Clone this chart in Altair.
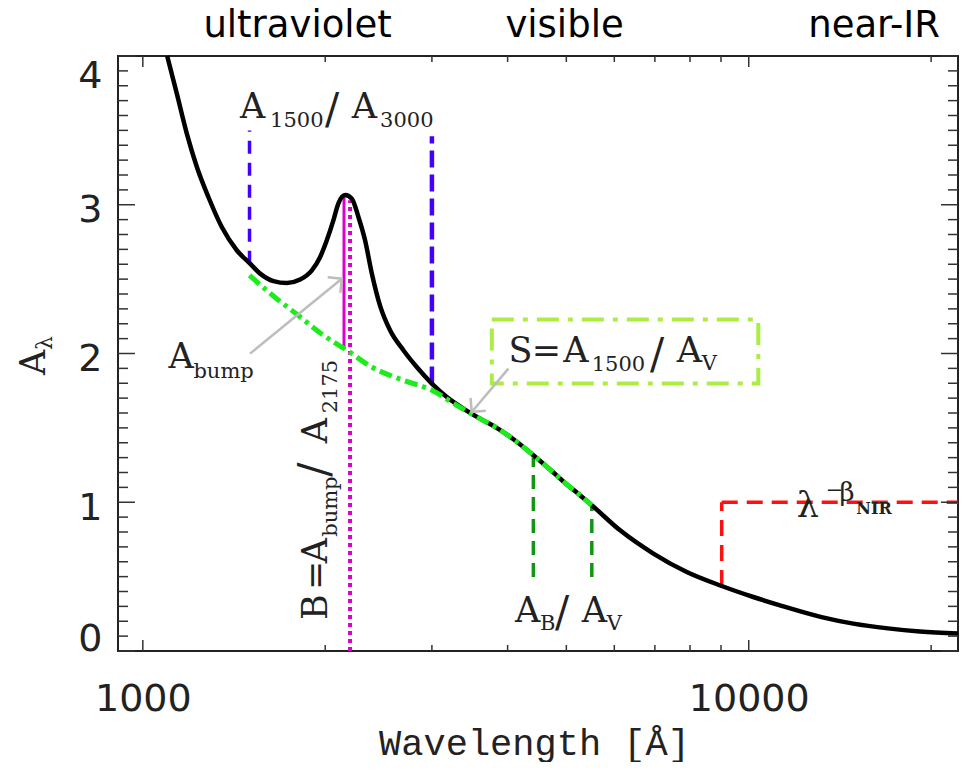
import altair as alt
import pandas as pd

# ---------------- values ----------------
# attenuation curve A_lambda (black)
curve_wave = [1097, 1138, 1182, 1228, 1283, 1350, 1429, 1503, 1562, 1643, 1729, 1818,
              1901, 1962, 2012, 2063, 2102, 2157, 2213, 2269, 2327, 2387, 2464, 2559,
              2692, 2832, 2999, 3175, 3381, 3603, 3838, 4100, 4411, 4700, 4943, 5250,
              5508, 6134, 6960, 7902, 9024, 10175, 11260, 13190, 14880, 16970, 19170, 22150]
curve_a = [4.00, 3.747, 3.478, 3.254, 3.052, 2.850, 2.694, 2.604, 2.537, 2.487, 2.474, 2.497,
           2.559, 2.649, 2.761, 2.895, 3.008, 3.066, 3.041, 2.918, 2.761, 2.54, 2.32, 2.156,
           2.022, 1.909, 1.798, 1.708, 1.630, 1.562, 1.50, 1.42, 1.316, 1.22, 1.14, 1.052,
           0.98, 0.811, 0.655, 0.531, 0.437, 0.363, 0.307, 0.228, 0.184, 0.152, 0.131, 0.117]

# bump-free underlying curve (green dash-dot)
base_wave = [1500, 1650, 1800, 1975, 2175, 2387, 2692, 2999, 3295, 3515, 3838, 4100,
             4411, 4700, 4943, 5250, 5508]
base_a = [2.525, 2.38, 2.26, 2.13, 2.02, 1.909, 1.82, 1.753, 1.652, 1.585, 1.50, 1.42,
          1.316, 1.22, 1.14, 1.052, 0.98]

# marker segments
uv_wave = [1500, 3000]           # A1500 / A3000
uv_lo = [2.604, 1.798]
uv_hi = [3.50, 3.46]
bump_wave = [2148]               # A_bump (solid)
bump_lo = [2.03]
bump_hi = [3.06]
b2175_wave = [2198]              # A2175 (dotted)
b2175_lo = [0.0]
b2175_hi = [3.03]
bv_wave = [4411, 5508]           # A_B / A_V
bv_lo = [0.497, 0.497]
bv_hi = [1.30, 0.98]
nir_x = [9024, 9024]             # NIR slope bracket
nir_x2 = [9024, 22150]
nir_y = [0.437, 1.0]
nir_y2 = [1.0, 1.0]
box_x = [3767]                   # box round S label
box_x2 = [10371]
box_y = [1.798]
box_y2 = [2.228]
arrow_x = [1503, 4012]
arrow_y = [1.999, 1.898]
arrow_x2 = [2130, 3490]
arrow_y2 = [2.503, 1.607]
arrow_angle = [320.7, 130.1]

# text pieces (anchor = left end of baseline)
main_t = ["A", "A", "A", "S", "=", "A", "A", "A", "A", "λ"]
main_w = [1447, 2213, 1102, 4012, 4385, 4944, 7606, 4115, 5302, 12000]
main_a = [3.585, 3.585, 1.901, 1.945, 1.945, 1.945, 1.945, 0.197, 0.197, 0.903]
sub_t = ["1500", "3000", "bump", "1500", "V", "B", "V", "−"]
sub_w = [1622, 2464, 1212, 5507, 8362, 4525, 5832, 13400]
sub_a = [3.521, 3.521, 1.833, 1.884, 1.889, 0.141, 0.141, 1.035]
beta_t = ["β"]
beta_w = [14120]
beta_a = [1.008]
slash_w = [1999, 6872, 4790]
slash_a = [3.551, 1.904, 0.168]
nir_t = ["NIR"]
nir_w = [15050]
nir_a = [0.921]
rot_main_t = ["B", "=", "A", "A"]
rot_main_w = [2012, 2012, 2012, 2012]
rot_main_a = [0.208, 0.410, 0.590, 1.396]
rot_sub_t = ["bump", "2175"]
rot_sub_w = [2090, 2090]
rot_sub_a = [0.768, 1.598]
rot_slash_w = [2020]
rot_slash_a = [1.172]
region_t = ["ultraviolet", "visible", "near-IR"]
region_w = [1801, 4966, 16100]
region_a = [4.128, 4.128, 4.128]

# axis ticks
x_major = [1000, 10000]
x_minor = [2000, 3000, 4000, 5000, 6000, 7000, 8000, 9000, 20000]
y_major = [0, 1, 2, 3, 4]
y_minor = [round(i * 0.1, 1) for i in range(1, 40) if i % 10 != 0]

# ---------------- chart ----------------
W, H = 840, 595
xs = alt.Scale(type="log", domain=[910, 22150], nice=False)
ys = alt.Scale(domain=[0, 4], nice=False, zero=False)

x_axis = alt.Axis(values=x_major, format="d", ticks=False, tickSize=0, domain=False, grid=False,
                  labelFont="DejaVu Sans", labelFontSize=38, labelColor="#222",
                  labelPadding=29, labelFlush=False, labelOverlap=False,
                  title="Wavelength [Å]", titleFont="Liberation Mono", titleFontSize=37,
                  titleFontWeight="normal", titleColor="#222", titlePadding=7, titleX=416)
y_axis = alt.Axis(values=y_major, ticks=False, tickSize=0, domain=False, grid=False,
                  labelFont="DejaVu Sans", labelFontSize=38, labelColor="#222",
                  labelPadding=16, labelBaseline="middle",
                  labelOffset={"condition": [{"test": "datum.value >= 4", "value": 20},
                                             {"test": "datum.value <= 0", "value": -12}],
                               "value": 6},
                  title=None)


def ex(f):
    return alt.X(f, type="quantitative", scale=xs, axis=x_axis)


def ey(f):
    return alt.Y(f, type="quantitative", scale=ys, axis=y_axis)


def vrules(w, lo, hi, **mk):
    df = pd.DataFrame({"w": w, "lo": lo, "hi": hi})
    return alt.Chart(df).mark_rule(**mk).encode(x=ex("w"), y=ey("lo"), y2=alt.Y2("hi"))


layers = []
layers.append(vrules(uv_wave[:1], uv_lo[:1], uv_hi[:1], color="#4400ff", strokeWidth=3.5,
                     strokeDash=[13, 9]))
layers.append(vrules(uv_wave[1:], uv_lo[1:], uv_hi[1:], color="#4400ff", strokeWidth=4.5,
                     strokeDash=[17, 7]))
layers.append(vrules(b2175_wave, b2175_lo, b2175_hi, color="#dd00cc", strokeWidth=4,
                     strokeDash=[4, 4]))
layers.append(vrules(bump_wave, bump_lo, bump_hi, color="#dd00cc", strokeWidth=3))
layers.append(vrules(bv_wave, bv_lo, bv_hi, color="#149614", strokeWidth=3.5,
                     strokeDash=[14, 8]))

nir_df = pd.DataFrame({"x": nir_x, "x2": nir_x2, "y": nir_y, "y2": nir_y2})
layers.append(alt.Chart(nir_df).mark_rule(color="#ff1010", strokeWidth=3.5, strokeDash=[16, 9])
              .encode(x=ex("x"), x2=alt.X2("x2"), y=ey("y"), y2=alt.Y2("y2")))

curve_df = pd.DataFrame({"w": curve_wave, "a": curve_a})
layers.append(alt.Chart(curve_df).mark_line(color="black", strokeWidth=4.5, interpolate="monotone")
              .encode(x=ex("w"), y=ey("a")))

base_df = pd.DataFrame({"w": base_wave, "a": base_a})
layers.append(alt.Chart(base_df).mark_line(color="#1cec1c", strokeWidth=5, interpolate="monotone",
                                           strokeDash=[13, 5, 4, 5])
              .encode(x=ex("w"), y=ey("a")))

box_df = pd.DataFrame({"x": box_x, "x2": box_x2, "y": box_y, "y2": box_y2})
layers.append(alt.Chart(box_df).mark_rect(fill=None, fillOpacity=0, stroke="#aaee44", strokeWidth=4,
                                          strokeDash=[22, 9, 5, 9])
              .encode(x=ex("x"), x2=alt.X2("x2"), y=ey("y"), y2=alt.Y2("y2")))

arrow_df = pd.DataFrame({"x": arrow_x, "y": arrow_y, "x2": arrow_x2, "y2": arrow_y2,
                         "ang": arrow_angle})
layers.append(alt.Chart(arrow_df).mark_rule(color="#bdbdbd", strokeWidth=2.5)
              .encode(x=ex("x"), y=ey("y"), x2=alt.X2("x2"), y2=alt.Y2("y2")))
layers.append(alt.Chart(arrow_df).mark_point(shape="M-1,-1L0,0L-1,1", filled=False, color="#bdbdbd",
                                             strokeWidth=2.5, size=400, opacity=1)
              .encode(x=ex("x2"), y=ey("y2"), angle=alt.Angle("ang:Q", scale=None)))


def texts(t, w, a, **mk):
    df = pd.DataFrame({"t": t, "w": w, "a": a})
    base = dict(align="left", baseline="alphabetic", font="DejaVu Serif", color="#222")
    base.update(mk)
    return alt.Chart(df).mark_text(**base).encode(x=ex("w"), y=ey("a"), text="t:N")


layers.append(texts(main_t, main_w, main_a, fontSize=35))
layers.append(texts(sub_t, sub_w, sub_a, fontSize=21))
layers.append(texts(beta_t, beta_w, beta_a, fontSize=26))
layers.append(texts(["/"] * len(slash_w), slash_w, slash_a, fontSize=42))
layers.append(texts(nir_t, nir_w, nir_a, fontSize=16, fontWeight="bold"))
layers.append(texts(rot_main_t, rot_main_w, rot_main_a, fontSize=35, angle=270))
layers.append(texts(rot_sub_t, rot_sub_w, rot_sub_a, fontSize=21, angle=270))
layers.append(texts(["/"], rot_slash_w, rot_slash_a, fontSize=42, angle=270))
layers.append(texts(region_t, region_w, region_a, fontSize=37, font="DejaVu Sans", align="center",
                    color="black"))

# y-axis title A_lambda
ttl = pd.DataFrame({"t": ["A"], "s": ["λ"]})
layers.append(alt.Chart(ttl).mark_text(font="DejaVu Serif", fontSize=35, angle=270, align="left",
                                       baseline="alphabetic", color="#222")
              .encode(x=alt.value(-73), y=alt.value(319), text="t:N"))
layers.append(alt.Chart(ttl).mark_text(font="DejaVu Serif", fontSize=22, angle=270, align="left",
                                       baseline="alphabetic", color="#222")
              .encode(x=alt.value(-66), y=alt.value(294), text="s:N"))

# inward ticks on all four sides
tick_col = "#333"
xmaj = pd.DataFrame({"v": x_major})
xmin = pd.DataFrame({"v": x_minor})
ymaj = pd.DataFrame({"v": y_major})
ymin = pd.DataFrame({"v": y_minor})
for df, ln in [(xmaj, 11), (xmin, 6)]:
    layers.append(alt.Chart(df).mark_rule(color=tick_col, strokeWidth=1.5)
                  .encode(x=ex("v"), y=alt.value(H), y2=alt.value(H - ln)))
    layers.append(alt.Chart(df).mark_rule(color=tick_col, strokeWidth=1.5)
                  .encode(x=ex("v"), y=alt.value(0), y2=alt.value(ln)))
for df, ln in [(ymaj, 17), (ymin, 10)]:
    layers.append(alt.Chart(df).mark_rule(color=tick_col, strokeWidth=1.5)
                  .encode(y=ey("v"), x=alt.value(0), x2=alt.value(ln)))
    layers.append(alt.Chart(df).mark_rule(color=tick_col, strokeWidth=1.5)
                  .encode(y=ey("v"), x=alt.value(W), x2=alt.value(W - ln)))

chart = alt.layer(*layers).properties(
    width=W, height=H,
    autosize=alt.AutoSizeParams(type="none"),
    padding={"left": 110, "top": 48, "right": 1, "bottom": 111},
    background="white",
).configure_view(stroke="#222", strokeWidth=2)

chart.save("out.html", embed_options={"renderer": "svg", "actions": False})
